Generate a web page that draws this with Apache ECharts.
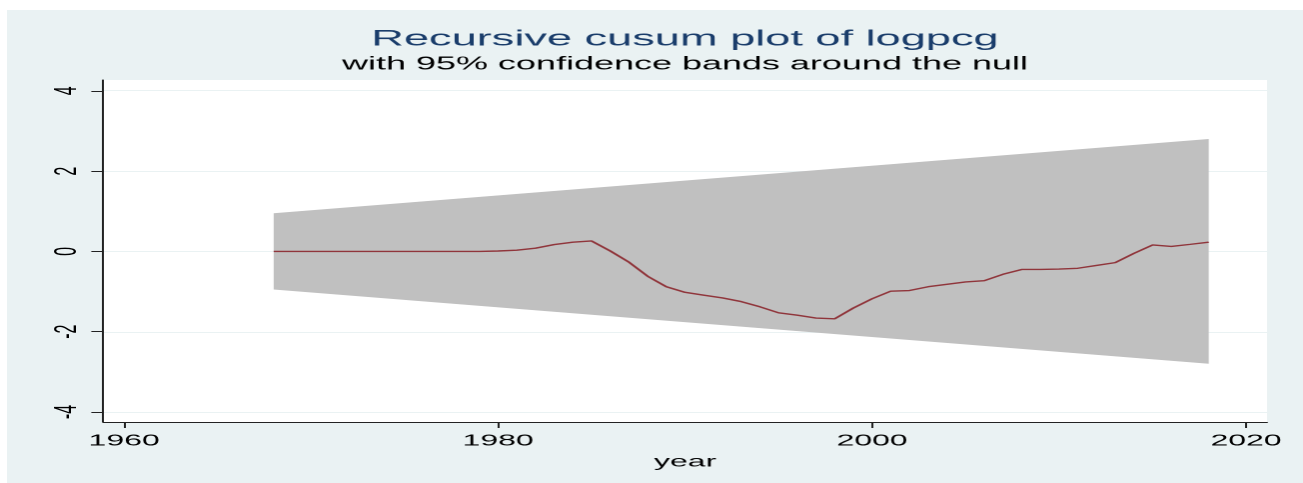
<!DOCTYPE html>
<html>
<head>
<meta charset="utf-8">
<script src="https://cdn.jsdelivr.net/npm/echarts@6/dist/echarts.min.js"></script>
<style>
  html, body { margin: 0; padding: 0; background: #fff; overflow: hidden; }
  #bg { position: absolute; left: 7px; top: 10px; right: 0; bottom: 0; background: #eaf2f3; }
  /* the reference is stretched sideways about 2x, so draw at half width and stretch */
  #chart { position: absolute; left: 0; top: 0; width: 652px; height: 483px;
           transform: scaleX(1.998466); transform-origin: 0 0; }
</style>
</head>
<body>
<div id="bg"></div>
<div id="chart"></div>
<script>
// recursive cusum of logpcg
var years = [1968, 1969, 1970, 1971, 1972, 1973, 1974, 1975, 1976, 1977, 1978, 1979,
  1980, 1981, 1982, 1983, 1984, 1985, 1986, 1987, 1988, 1989, 1990, 1991, 1992, 1993,
  1994, 1995, 1996, 1997, 1998, 1999, 2000, 2001, 2002, 2003, 2004, 2005, 2006, 2007,
  2008, 2009, 2010, 2011, 2012, 2013, 2014, 2015, 2016, 2017, 2018];
var cusum = [0, 0, 0, 0, 0, 0, 0, 0, 0, 0, 0, 0,
  0.01, 0.03, 0.08, 0.17, 0.23, 0.26, 0.01, -0.27, -0.62, -0.88, -1.02, -1.09, -1.16, -1.25,
  -1.38, -1.53, -1.59, -1.66, -1.68, -1.41, -1.18, -0.99, -0.975, -0.88, -0.82, -0.76, -0.73, -0.57,
  -0.45, -0.45, -0.44, -0.42, -0.35, -0.28, -0.05, 0.16, 0.125, 0.175, 0.23];

// 95% band (straight lines between the ends)
var bandYears = [1968, 2018];
var bandUpper = [0.95, 2.8];
var bandLower = [-0.95, -2.8];

var xTicks = [1960, 1980, 2000, 2020];
var yTicks = [-4, -2, 0, 2, 4];

var chart = echarts.init(document.getElementById('chart'), null, { devicePixelRatio: 2 });

var lineData = years.map(function (y, i) { return [y, cusum[i]]; });
var bandData = bandYears.map(function (y, i) { return [y, bandLower[i], bandUpper[i]]; });

var font = 'Liberation Sans, Arial, sans-serif';

function renderBand(params, api) {
  if (params.dataIndex !== 0) return;
  var pts = [];
  for (var i = 0; i < bandYears.length; i++) {
    pts.push(api.coord([bandYears[i], bandUpper[i]]));
  }
  for (var j = bandYears.length - 1; j >= 0; j--) {
    pts.push(api.coord([bandYears[j], bandLower[j]]));
  }
  return {
    type: 'polygon',
    shape: { points: pts },
    style: { fill: '#c0c0c0', stroke: null }
  };
}

var option = {
  animation: false,
  backgroundColor: 'transparent',
  textStyle: { fontFamily: font },
  graphic: [
    {
      type: 'text', x: 342.75, y: 39.5, silent: true,
      style: { text: 'Recursive cusum plot of logpcg', fill: '#1a3d6b',
        font: '22.6px ' + font, align: 'center', verticalAlign: 'middle',
        textAlign: 'center', textVerticalAlign: 'middle' }
    },
    {
      type: 'text', x: 342.75, y: 64.5, silent: true,
      style: { text: 'with 95% confidence bands around the null', fill: '#000',
        font: '18px ' + font, align: 'center', verticalAlign: 'middle',
        textAlign: 'center', textVerticalAlign: 'middle' }
    }
  ],
  grid: [
    {
      left: 51.7, right: 18, top: 80, bottom: 61,
      show: true, backgroundColor: '#fff', borderWidth: 0
    },
    // only for the horizontal grid lines at the tick values
    { left: 51.7, right: 18, top: 90.7, bottom: 70.7, show: false }
  ],
  xAxis: [
    {
      gridIndex: 0, type: 'value', min: 1958.89, max: 2021.12,
      name: 'year', nameLocation: 'middle', nameGap: 29,
      nameTextStyle: { color: '#000', fontSize: 16, fontFamily: font },
      axisLine: { show: true, onZero: false, lineStyle: { color: '#222', width: 1 } },
      axisTick: { show: true, length: 6, customValues: xTicks, lineStyle: { color: '#222' } },
      axisLabel: {
        customValues: xTicks, margin: 11, color: '#000', fontSize: 16, fontFamily: font,
        formatter: function (v) { return String(v); }
      },
      splitLine: { show: false }
    },
    {
      gridIndex: 1, type: 'value', min: 1958.89, max: 2021.12, show: false
    }
  ],
  yAxis: [
    {
      gridIndex: 0, type: 'value', min: -4.25, max: 4.27, position: 'left',
      axisLine: { show: true, onZero: false, lineStyle: { color: '#222', width: 1 } },
      axisTick: { show: true, length: 6, customValues: yTicks, lineStyle: { color: '#222' } },
      axisLabel: {
        customValues: yTicks, rotate: 90, margin: 10, color: '#000', fontSize: 16, fontFamily: font,
        formatter: function (v) { return String(v); }
      },
      splitLine: { show: false }
    },
    {
      gridIndex: 1, type: 'value', min: -4, max: 4, interval: 2,
      axisLine: { show: false }, axisTick: { show: false }, axisLabel: { show: false },
      splitLine: { show: true, lineStyle: { color: '#eaf2f3', width: 1 } }
    }
  ],
  series: [
    {
      name: 'band', type: 'custom', xAxisIndex: 0, yAxisIndex: 0,
      data: bandData, encode: { x: 0, y: [1, 2] }, silent: true,
      renderItem: renderBand, z: 2
    },
    {
      name: 'CUSUM', type: 'line', xAxisIndex: 0, yAxisIndex: 0,
      data: lineData, symbol: 'none', z: 5,
      lineStyle: { color: '#90353b', width: 1.4 }
    }
  ]
};

chart.setOption(option);
</script>
</body>
</html>
